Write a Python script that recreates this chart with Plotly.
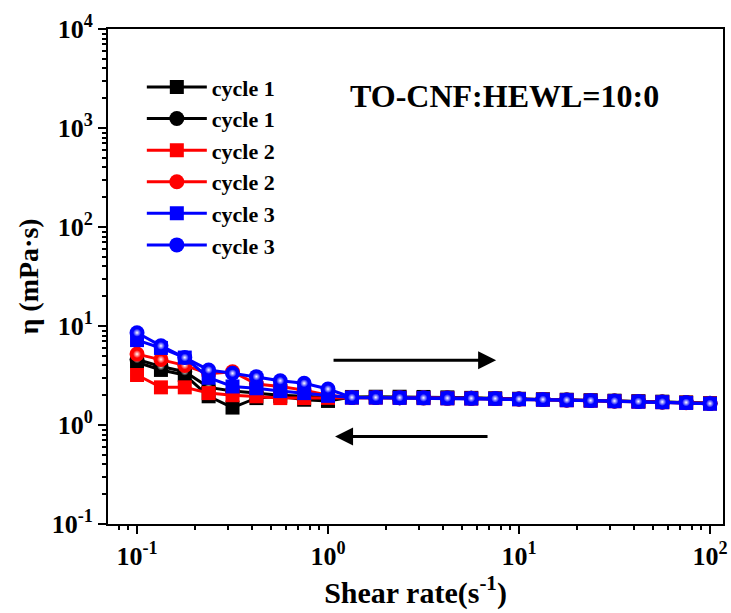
import plotly.graph_objects as go

# Shear rates: 8 points per decade from 0.1 to 100 s^-1
shear_rate = [0.1, 0.1334, 0.1778, 0.2371, 0.3162, 0.4217, 0.5623, 0.7499,
              1.0, 1.334, 1.778, 2.371, 3.162, 4.217, 5.623, 7.499,
              10.0, 13.34, 17.78, 23.71, 31.62, 42.17, 56.23, 74.99, 100.0]

# Viscosity (mPa·s); squares = up-sweep, circles = down-sweep
cycle1_sq = [4.3, 3.6, 3.2, 1.95, 1.5, 1.87, 1.95, 1.8, 1.75,
             1.92, 1.93, 1.93, 1.92, 1.90, 1.88, 1.86, 1.84, 1.82, 1.80,
             1.78, 1.76, 1.74, 1.72, 1.69, 1.66]
cycle1_ci = [4.6, 3.9, 3.45, 2.4, 2.2, 2.1, 2.0, 1.95, 1.9,
             1.90, 1.90, 1.89, 1.88, 1.87, 1.86, 1.85, 1.83, 1.81, 1.79,
             1.77, 1.75, 1.73, 1.71, 1.69, 1.66]
cycle2_sq = [3.2, 2.4, 2.4, 2.1, 2.0, 1.95, 1.87, 1.87, 1.88,
             1.89, 1.89, 1.88, 1.87, 1.86, 1.85, 1.84, 1.82, 1.80, 1.78,
             1.76, 1.74, 1.72, 1.70, 1.68, 1.65]
cycle2_ci = [5.2, 4.6, 4.0, 3.3, 3.45, 2.6, 2.45, 2.25, 2.0,
             1.90, 1.90, 1.89, 1.88, 1.87, 1.86, 1.85, 1.83, 1.81, 1.79,
             1.77, 1.75, 1.73, 1.71, 1.68, 1.65]
cycle3_sq = [7.2, 6.0, 4.8, 3.0, 2.45, 2.35, 2.2, 2.1, 1.97,
             1.89, 1.89, 1.88, 1.87, 1.86, 1.85, 1.84, 1.82, 1.80, 1.78,
             1.76, 1.74, 1.72, 1.70, 1.67, 1.64]
cycle3_ci = [8.55, 6.3, 4.8, 3.6, 3.33, 3.08, 2.8, 2.64, 2.31,
             1.90, 1.90, 1.89, 1.88, 1.87, 1.86, 1.85, 1.83, 1.81, 1.79,
             1.77, 1.75, 1.73, 1.71, 1.69, 1.65]

# Axis decades and their labels
x_tickvals = [0.1, 1, 10, 100]
x_ticktext = ["10<sup>-1</sup>", "10<sup>0</sup>", "10<sup>1</sup>", "10<sup>2</sup>"]
y_tickvals = [0.1, 1, 10, 100, 1000, 10000]
y_ticktext = ["10<sup>-1</sup>", "10<sup>0</sup>", "10<sup>1</sup>",
              "10<sup>2</sup>", "10<sup>3</sup>", "10<sup>4</sup>"]

series = [
    ("cycle 1", cycle1_sq, "#000000", "square"),
    ("cycle 1", cycle1_ci, "#000000", "circle"),
    ("cycle 2", cycle2_sq, "#ff0000", "square"),
    ("cycle 2", cycle2_ci, "#ff0000", "circle"),
    ("cycle 3", cycle3_sq, "#0000ff", "square"),
    ("cycle 3", cycle3_ci, "#0000ff", "circle"),
]

FONT = "Liberation Serif"

fig = go.Figure()
for i, (name, vals, color, sym) in enumerate(series):
    fig.add_trace(go.Scatter(
        x=shear_rate, y=vals, name=name, mode="lines+markers",
        legendgroup=f"g{i}",
        line=dict(color=color, width=3),
        marker=dict(symbol=sym, color=color,
                    size=14 if sym == "square" else 15, line=dict(width=0)),
    ))
    if sym == "circle":
        # glossy highlight on the spheres
        fig.add_trace(go.Scatter(
            x=shear_rate, y=vals, mode="markers", showlegend=False,
            legendgroup=f"g{i}", hoverinfo="skip",
            marker=dict(symbol="circle", size=8, color=color,
                        gradient=dict(type="radial", color="#ffffff"),
                        line=dict(width=0)),
        ))

axis_common = dict(
    type="log", showline=True, linecolor="black", linewidth=2, mirror=True,
    ticks="outside", ticklen=8, tickwidth=2, tickcolor="black",
    showgrid=False, zeroline=False, automargin=False,
    tickfont=dict(family=FONT, size=26, color="black", weight="bold"),
    minor=dict(ticks="outside", ticklen=4, tickwidth=1.5, tickcolor="black",
               dtick="D1", showgrid=False),
)

fig.update_layout(
    width=731, height=613,
    margin=dict(l=108, r=8, t=29, b=89),
    paper_bgcolor="white", plot_bgcolor="white",
    font=dict(family=FONT, color="black", weight="bold"),
    xaxis=dict(axis_common, range=[-1.152, 2.068],
               tickvals=x_tickvals, ticktext=x_ticktext,
               title=dict(text="Shear rate(s<sup>-1</sup>)", standoff=4,
                          font=dict(family=FONT, size=30, weight="bold"))),
    yaxis=dict(axis_common, range=[-1, 4],
               tickvals=y_tickvals, ticktext=y_ticktext),
    legend=dict(x=0.055, y=0.925, xanchor="left", yanchor="top",
                bgcolor="rgba(0,0,0,0)",
                font=dict(family=FONT, size=22, weight="bold"),
                tracegroupgap=0, itemwidth=60),
    showlegend=True,
)

# Y-axis title
fig.add_annotation(text="η (mPa·s)", xref="paper", yref="paper",
                   x=-0.130, y=0.5, xanchor="center", yanchor="middle",
                   textangle=-90, showarrow=False,
                   font=dict(family=FONT, size=28, weight="bold"))

fig.add_annotation(text="TO-CNF:HEWL=10:0", xref="paper", yref="paper",
                   x=0.645, y=0.905, showarrow=False,
                   font=dict(family=FONT, size=32, weight="bold"))

# Sweep-direction arrows
fig.add_annotation(x=0.88, y=0.655, ax=0.021, ay=0.655,
                   xref="x", yref="y", axref="x", ayref="y",
                   text="", showarrow=True, arrowhead=2, arrowsize=1.2,
                   arrowwidth=3, arrowcolor="black")
fig.add_annotation(x=0.037, y=-0.115, ax=0.843, ay=-0.115,
                   xref="x", yref="y", axref="x", ayref="y",
                   text="", showarrow=True, arrowhead=2, arrowsize=1.2,
                   arrowwidth=3, arrowcolor="black")

fig.write_html("out.html")
